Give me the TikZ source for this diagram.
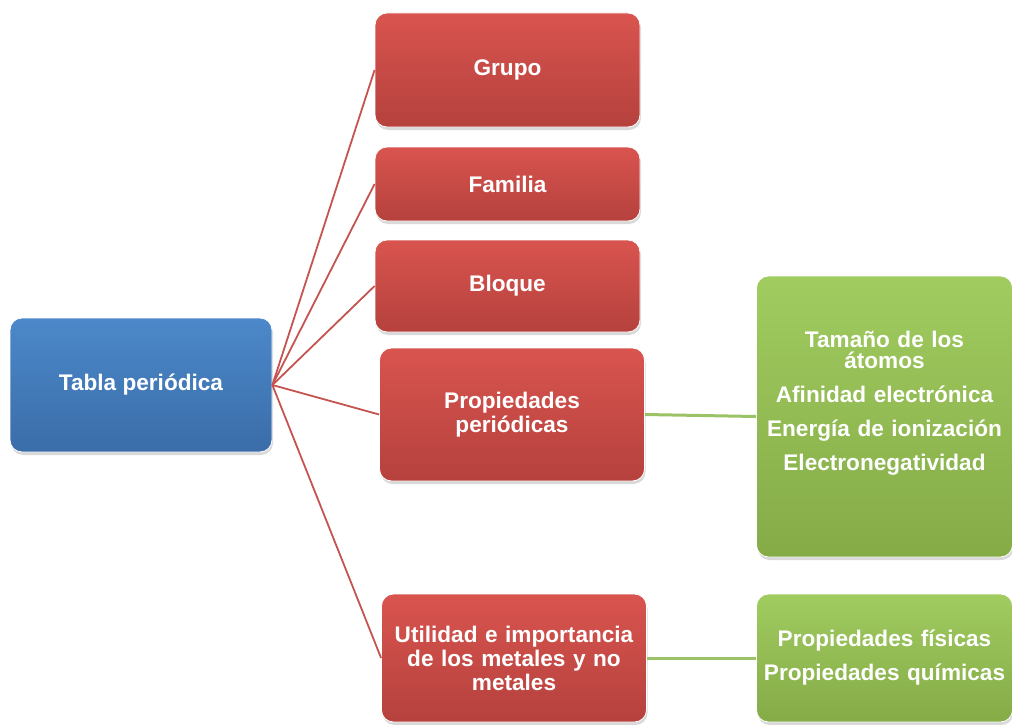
\documentclass[tikz,border=0pt]{standalone}
\usepackage{fontspec}
\setmainfont{Liberation Sans}
\usetikzlibrary{positioning,shadows}
\definecolor{bluetop}{HTML}{4C88CA}\definecolor{bluebot}{HTML}{3A6DA8}
\definecolor{redtop}{HTML}{D9544F}\definecolor{redbot}{HTML}{B5413D}
\definecolor{greentop}{HTML}{A0CC60}\definecolor{greenbot}{HTML}{85AB47}
\definecolor{redline}{HTML}{C55451}\definecolor{greenline}{HTML}{9BC264}

\begin{document}
\begin{tikzpicture}[x=1pt,y=-1pt,
  box/.style={rectangle, rounded corners=12pt, draw=white, line width=0.8pt, text=white,
    align=center, inner sep=3pt, font=\bfseries\fontsize{22.6}{24}\selectfont,
    drop shadow={opacity=0.3, shadow xshift=1pt, shadow yshift=-3pt}},
  bluebox/.style={box, top color=bluetop, bottom color=bluebot, minimum width=262pt},
  redbox/.style={box, top color=redtop, bottom color=redbot, minimum width=265pt, text width=250pt},
  greenbox/.style={box, top color=greentop, bottom color=greenbot, minimum width=255pt, text width=250pt},
  redlink/.style={draw=redline, line width=1.8pt},
  greenlink/.style={draw=greenline, line width=3pt}]
\useasboundingbox (0,0) rectangle (1012,725);
\node[bluebox, minimum height=134pt] (tabla) at (141,385) {Tabla periódica};
\node[redbox, minimum height=114pt] (grupo) at (507.5,70) {Grupo};
\node[redbox, minimum height=74pt] (familia) at (507.5,184) {Familia};
\node[redbox, minimum height=92pt] (bloque) at (507.5,286) {Bloque};
\node[redbox, minimum height=133pt] (props) at (512,414.5) {Propiedades\\periódicas};
\node[redbox, minimum height=128pt] (util) at (514,658) {Utilidad e importancia\\de los metales y no\\metales};
\node[greenbox, minimum height=281pt] (tendencias) at (884.5,416.5)
  {Tamaño de los\\[-3pt]átomos\\[10pt]Afinidad electrónica\\[10pt]Energía de ionización\\[10pt]Electronegatividad\\[8pt]\mbox{}};
\node[greenbox, minimum height=128pt] (tipos) at (884.5,658) {Propiedades físicas\\[10pt]Propiedades químicas};
% conectores
\foreach \dest in {grupo,familia,bloque,props,util}
  \draw[redlink] (tabla.east) -- (\dest.west);
\draw[greenlink] (props.east) -- (tendencias.west);
\draw[greenlink] (util.east) -- (tipos.west);
\end{tikzpicture}
\end{document}
